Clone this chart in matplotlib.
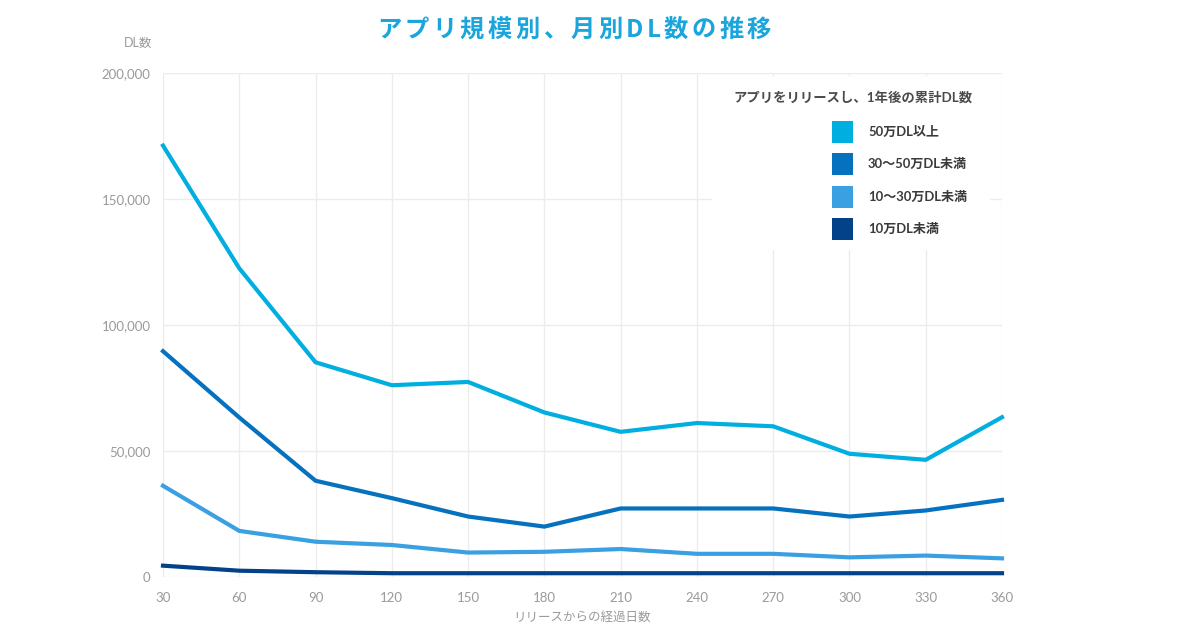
import matplotlib
matplotlib.use("Agg")
import matplotlib.pyplot as plt
from matplotlib.patches import Rectangle

plt.rcParams['font.family'] = ['Lato', 'Noto Sans CJK JP', 'DejaVu Sans']

days = [30, 60, 90, 120, 150, 180, 210, 240, 270, 300, 330, 360]
series_names = ['50万DL以上', '30〜50万DL未満', '10〜30万DL未満', '10万DL未満']
s_over50 = [171200, 122500, 85200, 76100, 77400, 65300, 57600, 61100, 59800, 48900, 46500, 63400]
s_30_50 = [89600, 63300, 38200, 31300, 24000, 20000, 27200, 27200, 27200, 24000, 26400, 30600]
s_10_30 = [36200, 18300, 14000, 12700, 9700, 10000, 11100, 9200, 9200, 7800, 8500, 7400]
s_under10 = [4500, 2500, 1900, 1500, 1500, 1500, 1500, 1500, 1500, 1500, 1500, 1500]
colors = ['#00aee0', '#0672bf', '#3aa0e2', '#034189']
yticks = [0, 50000, 100000, 150000, 200000]

title = 'アプリ規模別、月別DL数の推移'
ylabel = 'DL数'
xlabel = 'リリースからの経過日数'
legend_title = 'アプリをリリースし、1年後の累計DL数'

W, H = 1200, 630
fig = plt.figure(figsize=(12, 6.3), dpi=100)
ax = fig.add_axes([163/W, 1-577/H, (1002-163)/W, (577-73)/H])

for vals, c in zip([s_over50, s_30_50, s_10_30, s_under10], colors):
    ax.plot(days, vals, color=c, lw=3, solid_joinstyle='miter', clip_on=False, zorder=3)

ax.set_xlim(30, 360)
ax.set_ylim(0, 200000)
ax.set_xticks(days)
ax.set_yticks(yticks)
ax.set_yticklabels([f'{v:,}' for v in yticks])
ax.grid(True, color='#ececec', lw=1)
ax.set_axisbelow(True)
for s in ax.spines.values():
    s.set_visible(False)
ax.tick_params(length=0, colors='#9a9a9a', labelsize=9.5)
ax.tick_params(axis='x', pad=11)
ax.tick_params(axis='y', pad=9)

# legend panel (white, covering the grid)
ax.add_patch(Rectangle((712/W, 1-250/H), (990-712)/W, (250-76)/H,
                       transform=fig.transFigure, facecolor='white', edgecolor='none', zorder=2))
fig.text(733/W, 1-97/H, legend_title, fontsize=9.6, fontweight='bold',
         color='#4a4a4a', va='center', ha='left')
sq_y = [132, 164, 197, 229]
for name, c, yy in zip(series_names, colors, sq_y):
    fig.patches.append(Rectangle((832/W, 1-(yy+11)/H), 21/W, 22/H,
                                 transform=fig.transFigure, facecolor=c, edgecolor='none'))
    fig.text(868/W, 1-yy/H, name, fontsize=9.4, fontweight='bold',
             color='#3a3a3a', va='center', ha='left')

# letter-spaced title
renderer = fig.canvas.get_renderer()
tfont = dict(fontsize=17.5, fontweight='bold', color='#1aa5dc', va='center', ha='left',
             family=['Noto Sans CJK JP', 'DejaVu Sans'])
title_left, title_right = 377, 771
chars = [fig.text(0, 1-30/H, ch, **tfont) for ch in title]
widths = [t.get_window_extent(renderer).width for t in chars]
gap = (title_right - title_left - sum(widths)) / (len(chars) - 1)
x = title_left
for t, w in zip(chars, widths):
    t.set_x(x / W)
    x += w + gap

fig.text(152/W, 1-43/H, ylabel, fontsize=9, color='#9a9a9a', ha='right', va='center')
fig.text(582/W, 1-617/H, xlabel, fontsize=9, color='#9a9a9a', ha='center', va='center')

fig.savefig('out.png', dpi=100, facecolor='white')
